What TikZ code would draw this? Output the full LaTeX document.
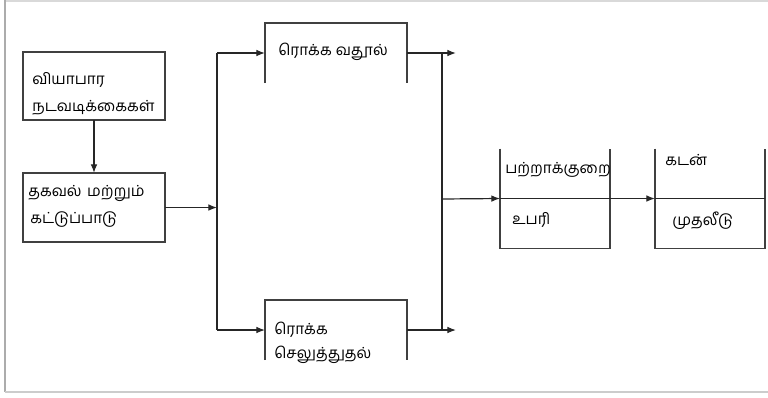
\documentclass[tikz,border=0pt]{standalone}
\usepackage{fontspec}
\newfontfamily\tamilfont[Script=Tamil]{Hind Madurai}
\usetikzlibrary{arrows.meta}

\begin{document}
\begin{tikzpicture}[x=0.75pt,y=-0.75pt,
	block/.style={inner sep=0pt,outer sep=0pt},
	boxline/.style={draw=black!75,line width=1pt},
	wire/.style={draw=black!85,line width=0.9pt},
	flow/.style={wire,-{Latex[length=6.5pt,width=5pt]}},
	txt/.style={anchor=west,inner sep=0pt,font=\tamilfont\fontsize{11.5}{13}\selectfont}]
	\useasboundingbox (0,0) rectangle (768,397);

	% frame
	\draw[gray!30,line width=1pt] (5,1) -- (768,1);
	\draw[gray!65,line width=1.2pt] (5,0) -- (5,392);
	\draw[gray!40,line width=2pt] (5,392) -- (768,392);

	% blocks
	\node[block,minimum width=142*0.75pt,minimum height=68*0.75pt] (biz) 	at (94,86) {};
	\node[block,minimum width=142*0.75pt,minimum height=69*0.75pt] (info) 	at (94,207.5) {};
	\node[block,minimum width=142*0.75pt,minimum height=60*0.75pt] (cashin) 	at (336,53) {};
	\node[block,minimum width=142*0.75pt,minimum height=60*0.75pt] (cashout) at (336,330) {};
	\node[block,minimum width=110*0.75pt,minimum height=100*0.75pt] (gap) 	at (555,198.5) {};
	\node[block,minimum width=110*0.75pt,minimum height=100*0.75pt] (loan) 	at (710,198.5) {};

	\draw[boxline] (biz.south west) rectangle (biz.north east);
	\draw[boxline] (info.south west) rectangle (info.north east);
	\foreach \b in {cashin,cashout}
	{
		\draw[boxline] (\b.south west) |- (\b.north east) -- (\b.south east);
	}
	\foreach \b in {gap,loan}
	{
		\draw[boxline] (\b.north west) |- (\b.south east) -- (\b.north east);
	}

	% texts
	\node[txt] (biz a) 	at (32,80) {வியாபார};
	\node[txt] (biz b) 	at (32,108) {நடவடிக்கைகள்};
	\node[txt] (info a) 	at (28,193) {தகவல்\hspace{4pt}மற்றும்};
	\node[txt] (info b) 	at (30,220) {கட்டுப்பாடு};
	\node[txt] (cashin a) 	at (278,52) {ரொக்க\hspace{3pt}வதூல்};
	\node[txt] (cashout a) 	at (274,330) {ரொக்க};
	\node[txt] (cashout b) 	at (274,355) {செலுத்துதல்};
	\node[txt] (gap a) 	at (505,170) {பற்றாக்குறை};
	\node[txt] (gap b) 	at (512,220) {உபரி};
	\node[txt] (loan a) 	at (665,160) {கடன்};
	\node[txt] (loan b) 	at (672,221) {முதலீடு};

	% connectors
	\coordinate (split) 	at (217,207.5);
	\coordinate (merge) 	at (442,199);
	\coordinate (in end) 	at (456,53);
	\coordinate (out end) 	at (456,330);

	\draw[flow] (biz.south) -- (info.north);
	\draw[flow] (info.east) -- (split);
	\draw[wire] (split |- cashin.west) -- (split |- cashout.west);
	\foreach \b in {cashin,cashout}
	{
		\draw[flow] (split |- \b.west) -- (\b.west);
	}
	\draw[flow] (cashin.east) -- (in end);
	\draw[flow] (cashout.east) -- (out end);
	\draw[wire] (merge |- cashin.east) -- (merge |- cashout.east);
	\draw[flow] (merge) -- (gap.west);
	\draw[wire] (gap.west) -- (gap.east);
	\draw[flow] (gap.east) -- (loan.west);
	\draw[wire] (loan.west) -- (loan.east);
\end{tikzpicture}
\end{document}
